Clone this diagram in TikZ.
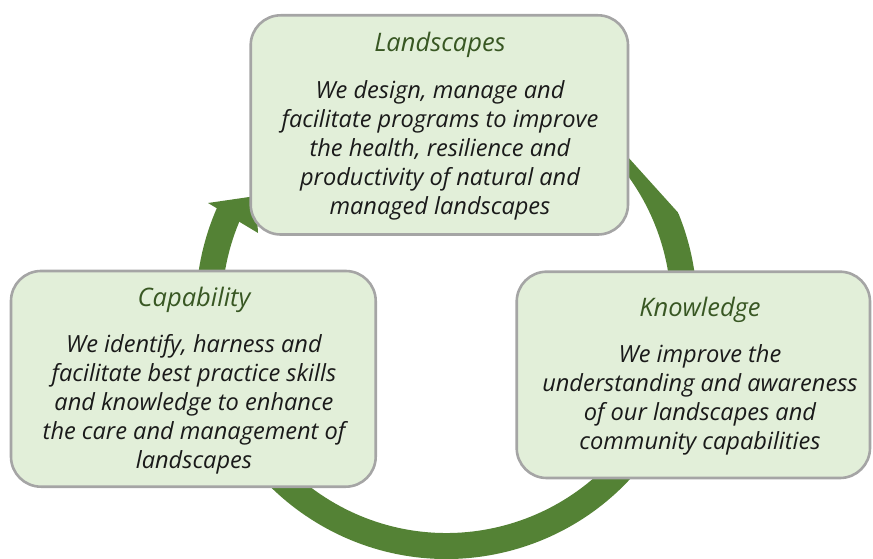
\documentclass[tikz,border=0pt]{standalone}
\usepackage{fontspec}
\setmainfont{Open Sans}
\definecolor{ringgreen}{HTML}{548235}
\definecolor{boxfill}{HTML}{E2EFD9}
\definecolor{boxdraw}{HTML}{A5A5A5}
\definecolor{titlegreen}{HTML}{385723}
\definecolor{bodytext}{HTML}{1A1A1A}
\begin{document}
\begin{tikzpicture}[x=1pt,y=-1pt,
  panel/.style={draw=boxdraw, fill=boxfill, line width=2.6pt, rounded corners=30pt, inner sep=0pt, outer sep=0pt},
  title/.style={text=titlegreen, font=\fontsize{25.5}{29}\selectfont\itshape, anchor=base, inner sep=0pt},
  body/.style={text=bodytext, font=\fontsize{23.6}{29}\selectfont\itshape, align=center, inner sep=0pt}]
\useasboundingbox (0,0) rectangle (873,559);
% circular arrow
\coordinate (c) at (446.5,308.4);
\coordinate (cutA) at (486.2,0);
\coordinate (cutB) at (873,428.6);
\begin{scope}
\clip (0,0) -- (cutA) -- (cutB) -- (873,559) -- (0,559) -- cycle;
\draw[ringgreen, line width=26pt] (c) ++(-60:237.6) arc[start angle=-60, end angle=205, radius=237.6];
\end{scope}
\coordinate (barbA) at (208,203);
\coordinate (barbB) at (258,233);
\coordinate (tip) at (256,196);
\fill[ringgreen] (barbA) -- (tip) -- (barbB) -- cycle;
% boxes
\node[panel, minimum width=377.3pt, minimum height=219.2pt] (land) at (439.35,124.9) {};
\node[panel, minimum width=364.7pt, minimum height=215.7pt] (cap) at (193.35,378.85) {};
\node[panel, minimum width=353.3pt, minimum height=206.3pt] (know) at (693.35,374.85) {};
% texts
\node[title] (landT) at (440,52) {Landscapes};
\node[body] (landB) at (440,150) {We design, manage and\\facilitate programs to improve\\the health, resilience and\\productivity of natural and\\managed landscapes};
\node[title] (capT) at (194,306) {Capability};
\node[body] (capB) at (194,404) {We identify, harness and\\facilitate best practice skills\\and knowledge to enhance\\the care and management of\\landscapes};
\node[title] (knowT) at (700,316.7) {Knowledge};
\node[body] (knowB) at (700,399.5) {We improve the\\understanding and awareness\\of our landscapes and\\community capabilities};
\end{tikzpicture}
\end{document}
